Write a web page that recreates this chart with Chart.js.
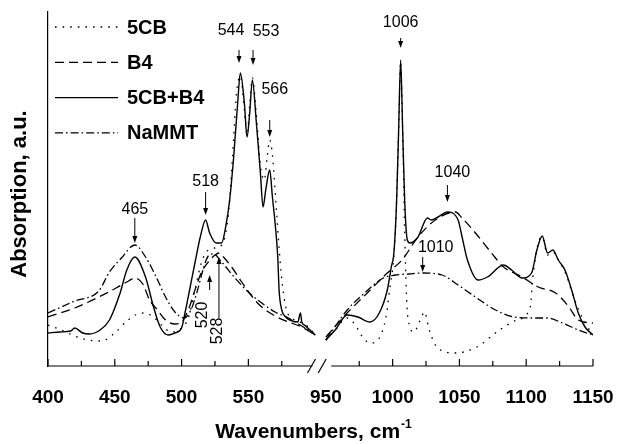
<!DOCTYPE html>
<html>
<head>
<meta charset="utf-8">
<script src="https://cdn.jsdelivr.net/npm/chart.js@4.4.1/dist/chart.umd.min.js"></script>
<style>
  html, body { margin: 0; padding: 0; background: #fff; }
  #wrap { width: 618px; height: 444px; }
</style>
</head>
<body>
<div id="wrap"><canvas id="ftir" width="618" height="444"></canvas></div>
<script>
// ==============================
// DATA (absorption, a.u.)
// ==============================
const seriesNames = ["5CB", "B4", "5CB+B4", "NaMMT"];

// 5CB (dotted)
const wn5cbL = [400, 410, 420, 430, 440, 450, 460, 470, 478, 485, 492, 500, 505, 510, 515, 520, 525, 530, 535, 538, 541, 544, 547, 549, 551, 553, 556, 559, 562, 564, 566, 568, 571, 574, 577, 580, 585, 590, 595, 600];
const ab5cbL = [4.1, 3.6, 3.0, 2.6, 2.5, 3.3, 4.6, 5.3, 5.0, 4.1, 3.4, 3.8, 4.8, 7.6, 10.4, 11.6, 11.8, 12.1, 15.1, 20.6, 27.1, 29.0, 25.6, 23.1, 26.1, 28.8, 25.1, 20.1, 18.6, 20.8, 22.6, 21.1, 15.6, 10.1, 6.6, 5.1, 4.6, 4.3, 3.9, 3.1];
const wn5cbR = [950, 957, 966, 972, 978, 983, 990, 995, 998, 1001, 1003, 1004.5, 1006, 1007.5, 1009, 1010.5, 1013, 1016, 1020, 1024, 1027, 1032, 1040, 1047, 1063, 1080, 1093, 1103, 1105, 1109, 1112, 1116, 1120, 1125, 1130, 1135, 1140, 1145, 1150];
const ab5cbR = [2.6, 3.6, 4.8, 4.1, 2.8, 2.3, 2.8, 4.9, 7.9, 11.1, 16.6, 23.6, 30.4, 23.6, 13.6, 6.6, 3.9, 3.4, 4.4, 5.4, 3.8, 2.1, 1.4, 1.3, 1.9, 3.6, 4.6, 5.9, 8.9, 12.3, 12.9, 11.1, 11.4, 10.4, 9.1, 7.1, 5.4, 4.1, 3.1];

// B4 (dashed)
const wnB4L = [400, 420, 438, 451, 459, 465, 471, 476, 482, 488, 495, 500, 505, 510, 515, 520, 525, 528, 532, 538, 545, 553, 560, 570, 580, 590, 600];
const abB4L = [4.9, 5.8, 6.9, 7.8, 8.4, 8.8, 8.2, 6.6, 5.6, 4.6, 4.2, 4.4, 5.6, 7.6, 9.4, 10.4, 11.1, 11.3, 10.8, 9.8, 8.4, 6.9, 5.9, 5.0, 4.4, 3.9, 3.1];
const wnB4R = [950, 966, 981, 996, 1007, 1019, 1032, 1047, 1052, 1062, 1074, 1083, 1097, 1109, 1122, 1132, 1139, 1150];
const abB4R = [2.9, 5.3, 7.3, 9.3, 10.6, 12.9, 14.6, 15.4, 14.8, 13.3, 11.3, 9.9, 8.9, 7.9, 7.3, 5.9, 4.6, 4.3];

// 5CB+B4 (solid)
const wnMixL = [400, 409, 417, 420, 426, 431, 439, 446, 454, 459, 465, 473, 479, 484, 490, 495, 500, 503, 506, 510, 514, 518, 521, 526, 530, 533, 536, 539, 542, 544, 547, 549, 551, 553, 556, 559, 561, 563, 566, 568, 570, 572, 573, 575, 578, 581, 587, 589, 590, 592, 600];
const abMixL = [3.3, 3.4, 3.5, 3.8, 3.3, 3.2, 3.6, 4.6, 7.3, 9.6, 10.9, 8.9, 5.9, 3.9, 3.1, 3.3, 3.8, 5.6, 7.6, 10.3, 12.9, 14.6, 13.3, 12.3, 12.3, 13.9, 16.6, 20.9, 26.3, 29.3, 26.3, 22.9, 25.3, 28.6, 24.3, 19.3, 15.9, 17.6, 19.6, 16.9, 14.3, 10.9, 7.6, 5.6, 4.9, 4.6, 4.4, 5.3, 4.4, 4.1, 3.1];
const wnMixR = [950, 957, 966, 974, 983, 990, 996, 999, 1001, 1003, 1004.5, 1006, 1007.5, 1009, 1011, 1013, 1019, 1026, 1029, 1034, 1041, 1049, 1052, 1056, 1064, 1071, 1083, 1089, 1097, 1104, 1108, 1112, 1116, 1120, 1124, 1129, 1134, 1139, 1144, 1150];
const abMixR = [2.6, 3.6, 5.1, 4.9, 4.4, 5.3, 7.6, 9.9, 11.4, 16.6, 23.6, 30.6, 23.6, 16.6, 12.6, 12.3, 12.9, 14.8, 14.6, 14.9, 15.4, 14.6, 12.9, 10.6, 8.6, 8.9, 10.1, 9.6, 8.8, 9.3, 11.6, 13.0, 11.3, 11.6, 10.6, 9.6, 7.6, 5.3, 3.9, 3.1];

// NaMMT (dash-dot)
const wnMmtL = [400, 420, 438, 446, 455, 465, 473, 481, 488, 495, 502, 507, 512, 516, 520, 524, 530, 540, 550, 560, 570, 580, 590, 600];
const abMmtL = [5.3, 6.5, 7.5, 9.4, 10.8, 12.1, 10.9, 8.9, 6.9, 5.4, 4.8, 5.6, 7.6, 9.6, 11.0, 11.2, 10.4, 8.8, 7.4, 6.3, 5.4, 4.8, 4.0, 3.1];
const wnMmtR = [950, 966, 979, 993, 1002, 1012, 1022, 1037, 1049, 1062, 1077, 1091, 1106, 1116, 1127, 1139, 1150];
const abMmtR = [2.6, 5.6, 7.3, 8.8, 9.1, 9.2, 9.3, 9.1, 8.1, 6.9, 5.6, 4.9, 4.8, 4.8, 4.3, 3.6, 3.1];

// axis ticks
const tickLabels = [400, 450, 500, 550, 950, 1000, 1050, 1100, 1150];
const tickMarks = [400, 425, 450, 475, 500, 525, 550, 575, 975, 1000, 1025, 1050, 1075, 1100, 1125, 1150];

// peak annotations
const peakText = ["465", "518", "544", "553", "566", "1006", "1040", "1010", "520", "528"];
const peakWn = [465, 518, 543, 553.5, 566, 1006, 1041, 1022.5, 521, 528];
const peakAbs = [12.3, 15.1, 30.3, 30.1, 22.9, 31.8, 16.4, 9.4, 9.1, 10.9];

// ==============================
// BROKEN AXIS 600 | 950
// ==============================
const BREAK_LO = 600;
const BREAK_HI = 950;
const BREAK_GAP = 8;

function axisPos(w) {
  return w <= BREAK_LO ? w : w - (BREAK_HI - BREAK_LO) + BREAK_GAP;
}

function buildPoints(wL, aL, wR, aR) {
  const pts = wL.map((w, i) => ({ x: axisPos(w), y: aL[i] }));
  pts.push({ x: BREAK_LO + BREAK_GAP / 2, y: null });
  wR.forEach((w, i) => pts.push({ x: axisPos(w), y: aR[i] }));
  return pts;
}

// ==============================
// STYLE
// ==============================
const FONT = "'Liberation Sans', Arial, sans-serif";
const dashes = [[1.6, 6], [9, 5], [], [8, 3, 1.6, 3]];

// annotation layout: [arrow length, text dx, text dy] in px from tip
const peakLayout = [
  [25, 0, -33], [23, 0, -33], [13, -8, -32], [15, 13, -33], [17, 5, -47],
  [10, 0, -25], [17, 5, -29], [15, 13, -24], [15, -7, 40], [61, -1, 74]
];

// ==============================
// PLUGIN (axis, legend, labels)
// ==============================
const decor = {
  id: "decor",
  afterDraw(chart) {
    const { ctx, chartArea } = chart;
    const xs = chart.scales.x;
    const ys = chart.scales.y;
    const base = chartArea.bottom;

    ctx.save();
    ctx.strokeStyle = "#000";
    ctx.fillStyle = "#000";
    ctx.lineWidth = 1.2;
    ctx.setLineDash([]);

    // x axis segments
    const xl0 = xs.getPixelForValue(axisPos(400));
    const xl1 = xs.getPixelForValue(axisPos(598));
    const xr0 = xs.getPixelForValue(axisPos(954));
    const xr1 = xs.getPixelForValue(axisPos(1150));
    ctx.beginPath();
    ctx.moveTo(xl0, base); ctx.lineTo(xl1, base);
    ctx.moveTo(xr0, base); ctx.lineTo(xr1, base);
    ctx.stroke();

    // break slashes
    [xl1 - 1, xr0 - 9].forEach(sx => {
      ctx.beginPath();
      ctx.moveTo(sx - 4, base + 7);
      ctx.lineTo(sx + 4, base - 7);
      ctx.stroke();
    });

    // inward ticks
    tickMarks.forEach(t => {
      const px = xs.getPixelForValue(axisPos(t));
      const len = t % 50 === 0 ? 7 : 5;
      ctx.beginPath();
      ctx.moveTo(px, base);
      ctx.lineTo(px, base - len);
      ctx.stroke();
    });

    // legend
    chart.data.datasets.forEach((ds, i) => {
      const ly = 27 + i * 35.3;
      ctx.save();
      ctx.lineWidth = ds.borderWidth;
      ctx.setLineDash(ds.borderDash);
      ctx.beginPath();
      ctx.moveTo(55, ly);
      ctx.lineTo(118, ly);
      ctx.stroke();
      ctx.restore();
      ctx.font = "bold 20px " + FONT;
      ctx.textAlign = "left";
      ctx.textBaseline = "middle";
      ctx.fillText(ds.label, 127, ly + 1);
    });

    // peak annotations
    ctx.font = "16px " + FONT;
    ctx.lineWidth = 1;
    peakText.forEach((txt, i) => {
      const px = xs.getPixelForValue(axisPos(peakWn[i]));
      const py = ys.getPixelForValue(peakAbs[i]);
      const [len, dx, dy] = peakLayout[i];
      const up = dy > 0;
      const start = up ? py + len : py - len;
      ctx.beginPath();
      ctx.moveTo(px, start);
      ctx.lineTo(px, up ? py + 5 : py - 5);
      ctx.stroke();
      ctx.beginPath();
      ctx.moveTo(px, py);
      ctx.lineTo(px - 2.5, up ? py + 7 : py - 7);
      ctx.lineTo(px + 2.5, up ? py + 7 : py - 7);
      ctx.closePath();
      ctx.fill();

      ctx.save();
      ctx.translate(px + dx, py + dy);
      if (up) ctx.rotate(-Math.PI / 2);
      ctx.textAlign = "center";
      ctx.textBaseline = "middle";
      ctx.fillText(txt, 0, 0);
      ctx.restore();
    });

    // y title
    ctx.save();
    ctx.font = "bold 22px " + FONT;
    ctx.translate(20, 194);
    ctx.rotate(-Math.PI / 2);
    ctx.textAlign = "center";
    ctx.textBaseline = "middle";
    ctx.fillText("Absorption, a.u.", 0, 0);
    ctx.restore();

    // x title with superscript
    const main = "Wavenumbers, cm";
    const sup = "-1";
    ctx.font = "bold 21px " + FONT;
    const wMain = ctx.measureText(main).width;
    ctx.font = "bold 12px " + FONT;
    const wSup = ctx.measureText(sup).width;
    const tx = 313 - (wMain + wSup) / 2;
    ctx.textAlign = "left";
    ctx.textBaseline = "alphabetic";
    ctx.font = "bold 21px " + FONT;
    ctx.fillText(main, tx, 438);
    ctx.font = "bold 12px " + FONT;
    ctx.fillText(sup, tx + wMain + 1, 428);

    ctx.restore();
  }
};

// ==============================
// CHART
// ==============================
const coords = [
  [wn5cbL, ab5cbL, wn5cbR, ab5cbR],
  [wnB4L, abB4L, wnB4R, abB4R],
  [wnMixL, abMixL, wnMixR, abMixR],
  [wnMmtL, abMmtL, wnMmtR, abMmtR]
];

const datasets = seriesNames.map((name, i) => ({
  label: name,
  data: buildPoints(...coords[i]),
  borderColor: "#000",
  borderWidth: i === 2 ? 1.4 : 1.3,
  borderDash: dashes[i],
  pointRadius: 0,
  fill: false,
  cubicInterpolationMode: "monotone",
  spanGaps: false
}));

new Chart(document.getElementById("ftir").getContext("2d"), {
  type: "line",
  data: { datasets },
  options: {
    responsive: false,
    animation: false,
    devicePixelRatio: 1,
    layout: { padding: { left: 0, right: 25, top: 12, bottom: 0 } },
    plugins: {
      legend: { display: false },
      tooltip: { enabled: false }
    },
    scales: {
      x: {
        type: "linear",
        min: axisPos(400),
        max: axisPos(1150),
        grid: { display: false, drawTicks: false },
        border: { display: false },
        afterBuildTicks: s => { s.ticks = tickLabels.map(v => ({ value: axisPos(v) })); },
        afterFit: s => { s.height = 78; s.paddingLeft = 0; s.paddingRight = 0; },
        ticks: {
          autoSkip: false,
          maxRotation: 0,
          padding: 20,
          color: "#000",
          font: { family: FONT, size: 19, weight: "bold" },
          callback: (v, i) => String(tickLabels[i])
        }
      },
      y: {
        min: 0,
        max: 35.4,
        grid: { display: false, drawTicks: false },
        border: { display: true, color: "#000", width: 1.2 },
        ticks: { display: false },
        afterFit: s => { s.width = 48; }
      }
    }
  },
  plugins: [decor]
});
</script>
</body>
</html>
